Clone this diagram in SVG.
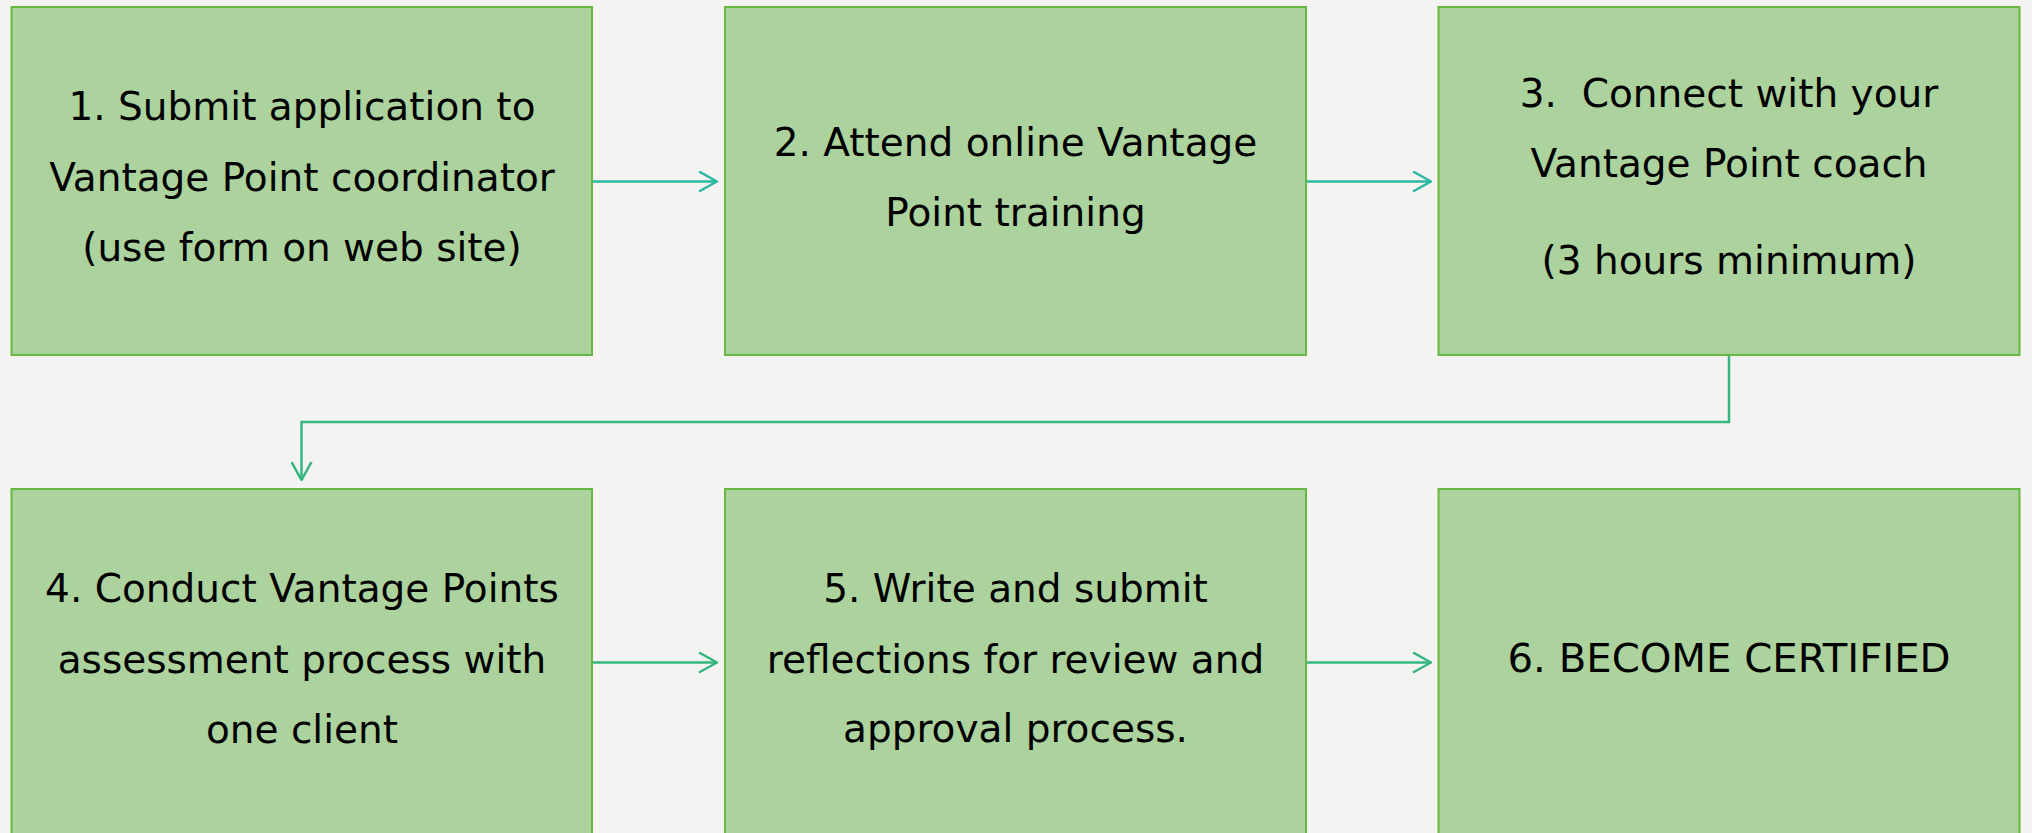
<svg xmlns="http://www.w3.org/2000/svg" width="2032" height="833" viewBox="0 0 2032 833">
  <defs>
    <style>
      .box { fill: #acd29e; stroke: #66b843; stroke-width: 2; }
      .lbl { font-family: "DejaVu Sans", Verdana, sans-serif; font-size: 39px; fill: #000; text-anchor: middle; }
      .c1 { fill: none; stroke: #2bb8a0; stroke-width: 2.5; }
      .c2 { fill: none; stroke: #36b67f; stroke-width: 2.5; }
    </style>
    <marker id="ah1" viewBox="0 0 20 22" refX="19" refY="11" markerWidth="20" markerHeight="22" markerUnits="userSpaceOnUse" orient="auto">
      <path d="M1,1 L19,11 L1,21" fill="none" stroke="#2bb8a0" stroke-width="2.5"/>
    </marker>
    <marker id="ah2" viewBox="0 0 20 22" refX="19" refY="11" markerWidth="20" markerHeight="22" markerUnits="userSpaceOnUse" orient="auto">
      <path d="M1,1 L19,11 L1,21" fill="none" stroke="#36b67f" stroke-width="2.5"/>
    </marker>
  </defs>
  <rect width="2032" height="833" fill="#f4f3f1"/>

  <g id="connectors">
    <line class="c1" x1="592" y1="181.5" x2="717" y2="181.5" marker-end="url(#ah1)"/>
    <line class="c1" x1="1306" y1="181.5" x2="1431" y2="181.5" marker-end="url(#ah1)"/>
    <polyline class="c2" points="1729,355 1729,422 301.5,422 301.5,480" marker-end="url(#ah2)"/>
    <line class="c2" x1="592" y1="662.5" x2="717" y2="662.5" marker-end="url(#ah2)"/>
    <line class="c2" x1="1306" y1="662.5" x2="1431" y2="662.5" marker-end="url(#ah2)"/>
  </g>

  <g id="node1">
    <rect class="box" x="11.5" y="7" width="580.5" height="348"/>
    <text class="lbl" x="302" y="120">1. Submit application to</text>
    <text class="lbl" x="302" y="190.5">Vantage Point coordinator</text>
    <text class="lbl" x="302" y="260.5">(use form on web site)</text>
  </g>
  <g id="node2">
    <rect class="box" x="725" y="7" width="581" height="348"/>
    <text class="lbl" x="1015.5" y="156">2. Attend online Vantage</text>
    <text class="lbl" x="1015.5" y="226">Point training</text>
  </g>
  <g id="node3">
    <rect class="box" x="1438.5" y="7" width="581" height="348"/>
    <text class="lbl" x="1729" y="106.5" xml:space="preserve">3.  Connect with your</text>
    <text class="lbl" x="1729" y="176.5">Vantage Point coach</text>
    <text class="lbl" x="1729" y="274">(3 hours minimum)</text>
  </g>
  <g id="node4">
    <rect class="box" x="11.5" y="489" width="580.5" height="360"/>
    <text class="lbl" x="302" y="601.5">4. Conduct Vantage Points</text>
    <text class="lbl" x="302" y="672.5">assessment process with</text>
    <text class="lbl" x="302" y="742.5">one client</text>
  </g>
  <g id="node5">
    <rect class="box" x="725" y="489" width="581" height="360"/>
    <text class="lbl" x="1015.5" y="601.5">5. Write and submit</text>
    <text class="lbl" x="1015.5" y="672.5">reflections for review and</text>
    <text class="lbl" x="1015.5" y="742">approval process.</text>
  </g>
  <g id="node6">
    <rect class="box" x="1438.5" y="489" width="581" height="360"/>
    <text class="lbl" x="1729" y="671.5" textLength="443" lengthAdjust="spacingAndGlyphs">6. BECOME CERTIFIED</text>
  </g>
</svg>
